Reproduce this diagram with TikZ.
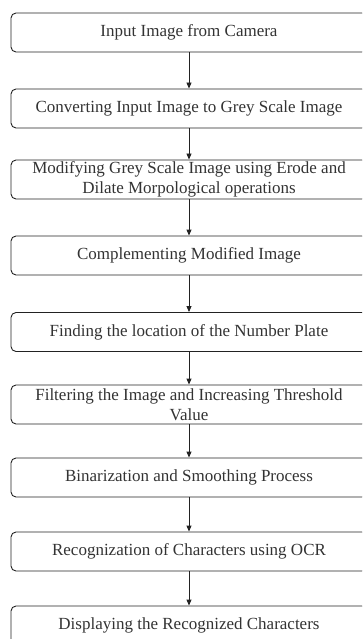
\documentclass[tikz,border=0pt]{standalone}
\usepackage{fontspec}
\setmainfont{Liberation Serif}
\usetikzlibrary{arrows.meta}
\definecolor{txt}{HTML}{333333}
\definecolor{edge}{HTML}{222222}
\begin{document}
\begin{tikzpicture}[x=1pt,y=1pt,
  stepbox/.style={draw=edge, line width=0.9pt, rounded corners=5pt, minimum width=356pt, minimum height=39pt, inner sep=0pt, align=center, text=txt, font=\fontsize{17}{19.5}\selectfont},
  flow/.style={draw=edge, line width=0.9pt, -{Triangle[length=6pt,width=5pt]}}]
\useasboundingbox (0,0) rectangle (362,-639);
\clip (0,0) rectangle (362,-639);
\node[stepbox] (b1) at (189,-32.5) {Input Image from Camera};
\node[stepbox] (b2) at (189,-108.5) {Converting Input Image to Grey Scale Image};
\node[stepbox] (b3) at (189,-179.5) {Modifying Grey Scale Image using Erode and\\Dilate Morpological operations};
\node[stepbox] (b4) at (189,-255.5) {Complementing Modified Image};
\node[stepbox] (b5) at (189,-332) {Finding the location of the Number Plate};
\node[stepbox] (b6) at (189,-404.5) {Filtering the Image and Increasing Threshold\\Value};
\node[stepbox] (b7) at (189,-477.5) {Binarization and Smoothing Process};
\node[stepbox] (b8) at (189,-551.5) {Recognization of Characters using OCR};
\node[stepbox] (b9) at (189,-625.5) {Displaying the Recognized Characters};
\draw[flow] (b1) -- (b2);
\draw[flow] (b2) -- (b3);
\draw[flow] (b3) -- (b4);
\draw[flow] (b4) -- (b5);
\draw[flow] (b5) -- (b6);
\draw[flow] (b6) -- (b7);
\draw[flow] (b7) -- (b8);
\draw[flow] (b8) -- (b9);
\end{tikzpicture}
\end{document}
